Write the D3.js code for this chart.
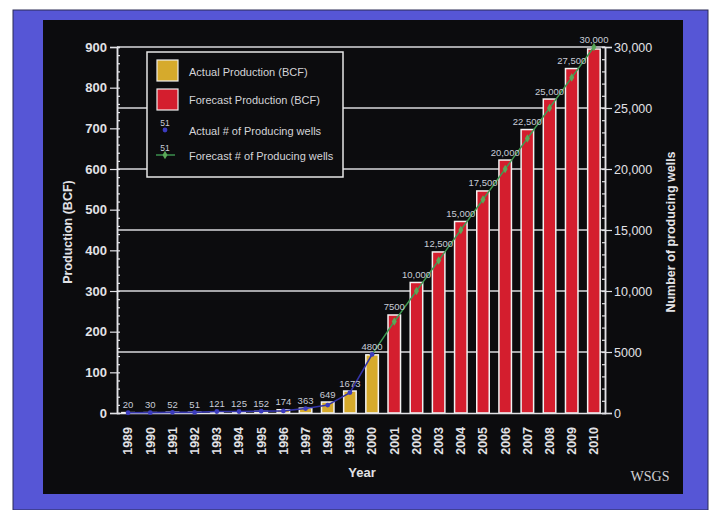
<!DOCTYPE html>
<html><head><meta charset="utf-8">
<script src="https://cdn.jsdelivr.net/npm/d3@7"></script>
<style>body{margin:0;background:#fff}svg{display:block}</style>
</head><body><svg id="c" width="712" height="510"></svg>
<script>
const years = ["1989","1990","1991","1992","1993","1994","1995","1996","1997","1998","1999","2000","2001","2002","2003","2004","2005","2006","2007","2008","2009","2010"];
const actualYears = years.slice(0,12);
const forecastYears = years.slice(12);
const actualProduction = [1,1,2,2,3,3,4,8,12,27,54,143];
const forecastProduction = [241,321,396,471,546,622,697,772,847,895];
const actualWells = [20,30,52,51,121,125,152,174,363,649,1673,4800];
const forecastWells = [7500,10000,12500,15000,17500,20000,22500,25000,27500,30000];
const actualWellLabels = ["20","30","52","51","121","125","152","174","363","649","1673","4800"];
const forecastWellLabels = ["7500","10,000","12,500","15,000","17,500","20,000","22,500","25,000","27,500","30,000"];
const leftTicks = [0,100,200,300,400,500,600,700,800,900];
const rightTicks = [0,5000,10000,15000,20000,25000,30000];
const rightTickLabels = ["0","5000","10,000","15,000","20,000","25,000","30,000"];

const svg = d3.select("#c");
const W=712,H=510;
const fg="#e2e2e6";
// frame
svg.append("rect").attr("x",0).attr("y",0).attr("width",W).attr("height",H).attr("fill","#fff");
svg.append("rect").attr("x",13).attr("y",10).attr("width",695).attr("height",500).attr("fill","#5656d6").attr("stroke","#2a2a55").attr("stroke-width",1);
svg.append("rect").attr("x",43).attr("y",20).attr("width",640).attr("height",474).attr("fill","#0c0c0e");

const x = d3.scaleBand().domain(years).range([117,605]).padding(0);
const yL = d3.scaleLinear().domain([0,900]).range([413,47]);
const yR = d3.scaleLinear().domain([0,30000]).range([413,47]);

// gridlines
svg.append("g").selectAll("line").data(rightTicks.filter(d=>d>0)).join("line")
  .attr("x1",117).attr("x2",605).attr("y1",d=>yR(d)).attr("y2",d=>yR(d))
  .attr("stroke","#d8d8dc").attr("stroke-width",1.5);

// bars
const bw=12.5;
function bars(ys,vals,color){
  svg.append("g").selectAll("rect").data(ys.map((y,i)=>({y,v:vals[i]}))).join("rect")
    .attr("x",d=>x(d.y)+x.bandwidth()/2-bw/2).attr("width",bw)
    .attr("y",d=>yL(d.v)).attr("height",d=>yL(0)-yL(d.v))
    .attr("fill",color).attr("stroke","#f2f2f2").attr("stroke-width",1.5);
}
bars(actualYears,actualProduction,"#d6aa2c");
bars(forecastYears,forecastProduction,"#d41e2e");

// axes
const axL = d3.axisLeft(yL).tickValues(leftTicks).tickSize(7).tickPadding(3);
const gL = svg.append("g").attr("transform","translate(117,0)").call(axL);
const axR = d3.axisRight(yR).tickValues(rightTicks).tickSize(7).tickPadding(2).tickFormat((d,i)=>rightTickLabels[i]);
const gR = svg.append("g").attr("transform","translate(605,0)").call(axR);
// minor ticks
svg.append("g").attr("transform","translate(117,0)").call(d3.axisRight(yL).tickValues(d3.range(0,901,20)).tickSize(3).tickFormat(""));
svg.append("g").attr("transform","translate(605,0)").call(d3.axisLeft(yR).tickValues(d3.range(0,30001,1000)).tickSize(3).tickFormat(""));
const axB = d3.axisBottom(x).tickSize(0).tickPadding(0);
const gB = svg.append("g").attr("transform","translate(0,413)").call(axB);
gB.selectAll("text").attr("transform","rotate(-90)").attr("text-anchor","end").attr("x",-14).attr("y",0).attr("dy","0.35em");
svg.selectAll(".domain").attr("stroke",fg).attr("stroke-width",1.5);
svg.selectAll(".tick line").attr("stroke",fg).attr("stroke-width",1.2);
svg.selectAll(".tick text").attr("fill",fg).attr("font-family","Liberation Sans, Arial, sans-serif").attr("font-weight","bold");
gL.selectAll("text").attr("font-size",13);
gR.selectAll("text").attr("font-size",12.5).attr("font-weight","normal");
gB.selectAll("text").attr("font-size",12.5);

// wells lines
const all = years.map((y,i)=>({y, w: i<12?actualWells[i]:forecastWells[i-12], p: i<12?actualProduction[i]:forecastProduction[i-12], lab: i<12?actualWellLabels[i]:forecastWellLabels[i-12]}));
const line = d3.line().x(d=>x(d.y)+x.bandwidth()/2).y(d=>yR(d.w));
svg.append("path").datum(all.slice(0,12)).attr("d",line).attr("fill","none").attr("stroke","#3434a8").attr("stroke-width",1.6);
svg.append("path").datum(all.slice(11)).attr("d",line).attr("fill","none").attr("stroke","#3f9a52").attr("stroke-width",1.4);
svg.append("g").selectAll("circle").data(all.slice(0,12)).join("circle")
  .attr("cx",d=>x(d.y)+x.bandwidth()/2).attr("cy",d=>yR(d.w)).attr("r",2.4).attr("fill","#3c3cc0");
svg.append("g").selectAll("path").data(all.slice(12)).join("path")
  .attr("d",d3.symbol(d3.symbolDiamond,22)).attr("transform",d=>`translate(${x(d.y)+x.bandwidth()/2},${yR(d.w)})`).attr("fill","#5aa858");

// well labels
svg.append("g").selectAll("text").data(all).join("text")
  .attr("x",d=>x(d.y)+x.bandwidth()/2).attr("y",d=>Math.min(yL(d.p),yR(d.w))-4.5)
  .attr("text-anchor","middle").attr("font-family","Liberation Sans, Arial, sans-serif").attr("font-size",9.5)
  .attr("fill","#c9ccd8").text(d=>d.lab);

// axis titles
const tf="Liberation Sans, Arial, sans-serif";
svg.append("text").attr("transform","translate(72,232) rotate(-90)").attr("text-anchor","middle").attr("font-family",tf).attr("font-weight","bold").attr("font-size",12.5).attr("fill",fg).text("Production (BCF)");
svg.append("text").attr("transform","translate(675,232) rotate(-90)").attr("text-anchor","middle").attr("font-family",tf).attr("font-weight","bold").attr("font-size",12.5).attr("fill",fg).text("Number of producing wells");
svg.append("text").attr("x",362).attr("y",477).attr("text-anchor","middle").attr("font-family",tf).attr("font-weight","bold").attr("font-size",13).attr("fill",fg).text("Year");
svg.append("text").attr("x",650).attr("y",481).attr("text-anchor","middle").attr("font-family","Liberation Serif, DejaVu Serif, serif").attr("font-size",14).attr("fill","#d0d0d4").text("WSGS");

// legend
const lg = svg.append("g");
lg.append("rect").attr("x",147).attr("y",52).attr("width",196).attr("height",125).attr("fill","#0c0c0e").attr("stroke","#e6e6e6").attr("stroke-width",1.5);
lg.append("rect").attr("x",157).attr("y",60).attr("width",21).attr("height",21).attr("fill","#d6aa2c").attr("stroke","#eee").attr("stroke-width",1.2);
lg.append("rect").attr("x",157).attr("y",89).attr("width",21).attr("height",21).attr("fill","#d41e2e").attr("stroke","#eee").attr("stroke-width",1.2);
lg.append("text").attr("x",165).attr("y",126).attr("text-anchor","middle").attr("font-family",tf).attr("font-size",8.5).attr("fill","#c9ccd8").text("51");
lg.append("circle").attr("cx",165).attr("cy",130).attr("r",2.4).attr("fill","#3c3cc0");
lg.append("text").attr("x",165).attr("y",151).attr("text-anchor","middle").attr("font-family",tf).attr("font-size",8.5).attr("fill","#c9ccd8").text("51");
lg.append("line").attr("x1",156).attr("x2",175).attr("y1",155).attr("y2",155).attr("stroke","#3f9a52").attr("stroke-width",1.4);
lg.append("path").attr("d",d3.symbol(d3.symbolDiamond,22)).attr("transform","translate(165,155)").attr("fill","#5aa858");
const legTexts=["Actual Production (BCF)","Forecast Production (BCF)","Actual # of Producing wells","Forecast # of Producing wells"];
const legY=[76,104,135,160];
lg.selectAll("text.l").data(legTexts).join("text").attr("class","l").attr("x",189).attr("y",(d,i)=>legY[i])
  .attr("font-family",tf).attr("font-size",11).attr("fill","#d4d4d8").text(d=>d);
</script></body></html>
